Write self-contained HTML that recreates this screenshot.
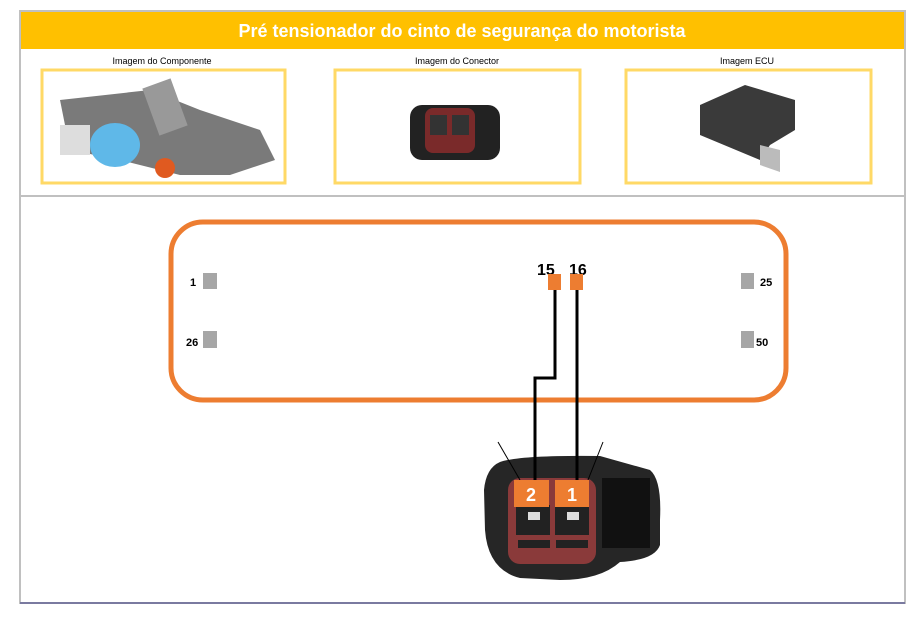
<!DOCTYPE html>
<html><head><meta charset="utf-8"><style>
body{margin:0;background:#fff;width:909px;height:625px;overflow:hidden;font-family:"Liberation Sans",sans-serif}
</style></head><body>
<svg width="909" height="625" viewBox="0 0 909 625" xmlns="http://www.w3.org/2000/svg" font-family="Liberation Sans, sans-serif">
<rect x="20" y="11" width="885" height="592" fill="#fff" stroke="#c0c0c0" stroke-width="2"/>
<rect x="21" y="12" width="883" height="37" fill="#FFC000"/>
<text x="462" y="37" text-anchor="middle" font-size="18" font-weight="bold" fill="#fff">Pré tensionador do cinto de segurança do motorista</text>
<line x1="20" y1="196" x2="905" y2="196" stroke="#c0c0c0" stroke-width="2"/>
<line x1="20" y1="603" x2="905" y2="603" stroke="#7a7aa0" stroke-width="2"/>
<g font-size="9" text-anchor="middle" fill="#000">
<text x="162" y="64">Imagem do Componente</text>
<text x="457" y="64">Imagem do Conector</text>
<text x="747" y="64">Imagem ECU</text>
</g>
<g fill="#fff" stroke="#FFD966" stroke-width="3">
<rect x="42" y="70" width="243" height="113"/>
<rect x="335" y="70" width="245" height="113"/>
<rect x="626" y="70" width="245" height="113"/>
</g>
<!-- component image approx -->
<path d="M60 100 L150 90 L200 110 L260 130 L275 160 L230 175 L180 175 L120 160 L70 150 Z" fill="#7a7a7a"/>
<rect x="150" y="82" width="30" height="50" fill="#999" transform="rotate(-20 165 107)"/>
<ellipse cx="115" cy="145" rx="25" ry="22" fill="#5fb8e8"/>
<circle cx="165" cy="168" r="10" fill="#e05a20"/>
<rect x="60" y="125" width="30" height="30" fill="#ddd"/>
<!-- connector small -->
<rect x="410" y="105" width="90" height="55" rx="12" fill="#222"/>
<rect x="425" y="108" width="50" height="45" rx="8" fill="#7a2a2a"/>
<rect x="430" y="115" width="17" height="20" fill="#333"/><rect x="452" y="115" width="17" height="20" fill="#333"/>
<!-- ECU -->
<path d="M700 105 L745 85 L795 100 L795 130 L770 145 L760 160 L700 135 Z" fill="#3a3a3a"/>
<path d="M760 145 L780 150 L780 172 L760 165 Z" fill="#bbb"/>
<!-- ECU box -->
<rect x="171" y="222" width="615" height="178" rx="32" fill="none" stroke="#ED7D31" stroke-width="5"/>
<g fill="#a6a6a6">
<rect x="203" y="273" width="14" height="16"/><rect x="203" y="331" width="14" height="17"/>
<rect x="741" y="273" width="13" height="16"/><rect x="741" y="331" width="13" height="17"/>
</g>
<g font-size="11" font-weight="bold" fill="#000">
<text x="190" y="286">1</text><text x="186" y="346">26</text>
<text x="760" y="286">25</text><text x="756" y="346">50</text>
</g>
<text x="537" y="275" font-size="16" font-weight="bold">15</text>
<text x="569" y="275" font-size="16" font-weight="bold">16</text>
<rect x="548" y="274" width="13" height="16" fill="#ED7D31"/>
<rect x="570" y="274" width="13" height="16" fill="#ED7D31"/>
<!-- big connector -->
<path d="M500 462 Q520 455 600 456 L650 470 Q662 480 660 520 L660 545 Q655 560 620 562 Q600 580 560 580 L520 578 Q488 570 485 530 L484 490 Q486 468 500 462 Z" fill="#262626"/>
<rect x="508" y="478" width="88" height="86" rx="12" fill="#8a3a3a"/>
<rect x="516" y="505" width="34" height="30" fill="#222"/><rect x="555" y="505" width="34" height="30" fill="#222"/>
<rect x="528" y="512" width="12" height="8" fill="#ddd"/><rect x="567" y="512" width="12" height="8" fill="#ddd"/>
<rect x="518" y="540" width="32" height="8" fill="#222"/><rect x="556" y="540" width="32" height="8" fill="#222"/>
<rect x="602" y="478" width="48" height="70" fill="#111"/>
<line x1="498" y1="442" x2="520" y2="480" stroke="#000" stroke-width="1"/>
<line x1="603" y1="442" x2="588" y2="480" stroke="#000" stroke-width="1"/>
<polyline points="555,290 555,378 535,378 535,490" fill="none" stroke="#000" stroke-width="3"/>
<polyline points="577,290 577,490" fill="none" stroke="#000" stroke-width="3"/>
<rect x="514" y="480" width="35" height="27" fill="#ED7D31"/>
<rect x="555" y="480" width="34" height="27" fill="#ED7D31"/>
<text x="531" y="501" text-anchor="middle" font-size="18" font-weight="bold" fill="#fff">2</text>
<text x="572" y="501" text-anchor="middle" font-size="18" font-weight="bold" fill="#fff">1</text>
</svg>
</body></html>
